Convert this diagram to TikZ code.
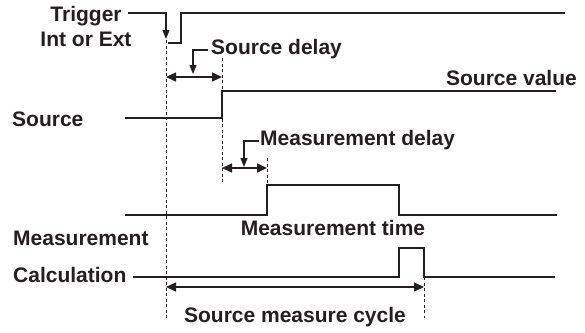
\documentclass[tikz,border=0pt]{standalone}
\usepackage{fontspec}
\setmainfont{Liberation Sans}
\usepackage{tikz}
\usetikzlibrary{arrows.meta}
\definecolor{ink}{RGB}{35,31,32}

\begin{document}
\begin{tikzpicture}[
    x=1pt, y=-1pt, color=ink,
    font=\fontsize{21}{24}\selectfont\bfseries,
    lbl/.style={inner sep=0pt},
    wave/.style={line width=1.3pt},
    guide/.style={line width=1pt, dash pattern=on 3pt off 2.5pt},
    ptr/.style={-{Triangle[length=9pt, width=7pt]}, line width=1.1pt},
    span/.style={{Triangle[length=10pt, width=9pt]}-{Triangle[length=10pt, width=9pt]}, line width=1.4pt}
  ]
    \useasboundingbox (0,0) rectangle (585,332);
    % labels
    \node[lbl, anchor=base] (trig) at (86,21.7) {Trigger};
    \node[lbl, anchor=base] (intext) at (86,46.7) {Int or Ext};
    \node[lbl, anchor=base west] (src) at (12,126) {Source};
    \node[lbl, anchor=base west] (meas) at (13,245) {Measurement};
    \node[lbl, anchor=base west] (calc) at (13,282) {Calculation};
    \node[lbl, anchor=base west] (sdelay) at (211,54) {Source delay};
    \node[lbl, anchor=base east] (sval) at (577,85) {Source value};
    \node[lbl, anchor=base west] (mdelay) at (260,145) {Measurement delay};
    \node[lbl, anchor=base] (mtime) at (333,235) {Measurement time};
    \node[lbl, anchor=base] (cycle) at (295,322) {Source measure cycle};
    % time marks
    \coordinate (trigend) at ([xshift=6pt]trig.east);
    \coordinate (sdstart) at ([xshift=-3pt]sdelay.west);
    \coordinate (mdstart) at ([xshift=-1pt]mdelay.west);
    % guides
    \draw[guide] (166,40) -- (166,318);
    \draw[guide] (222,58) -- (222,182);
    \draw[guide] (267,158) -- (267,185);
    \draw[guide] (424,277) -- (424,318);
    % trigger
    \draw[ptr] (trigend |- 0,13) -- (166,13) -- (166,39);
    \draw[wave] (167.5,43) -- (181,43) -- (181,13) -- (565,13);
    % source
    \draw[wave] (125,118) -- (222,118) -- (222,91) -- (556,91);
    \draw[span] (166,77) -- (222,77);
    \draw[ptr] (sdstart |- 0,50) -- (193,50) -- (193,74);
    % measurement
    \draw[wave] (125,215) -- (267,215) -- (267,185) -- (399,185) -- (399,215) -- (557,215);
    \draw[span] (222,168) -- (267,168);
    \draw[ptr] (mdstart |- 0,141) -- (244,141) -- (244,167);
    % calculation
    \draw[wave] (133,277) -- (399,277) -- (399,248) -- (424,248) -- (424,277) -- (555,277);
    \draw[span] (166,287) -- (424,287);
  \end{tikzpicture}
\end{document}
